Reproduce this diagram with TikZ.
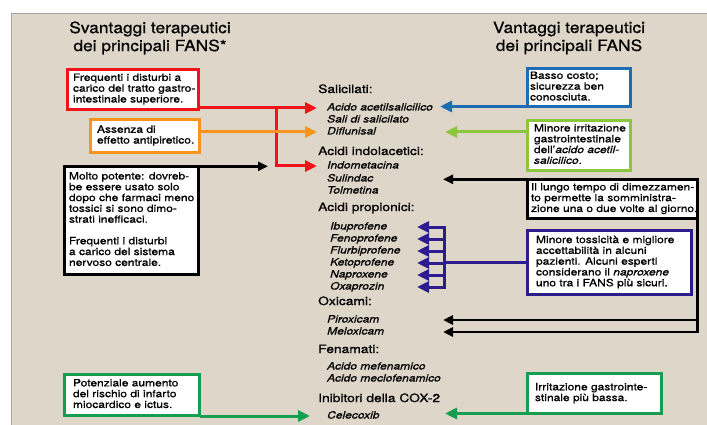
\documentclass[tikz,border=0pt]{standalone}
\usepackage{fontspec}
\setmainfont{TeX Gyre Heros}[FakeStretch=1.2, FakeBold=0.9]
\newfontfamily\titlefamily{TeX Gyre Heros}[FakeStretch=1.12, FakeBold=0.6]
\usetikzlibrary{arrows.meta}
\definecolor{bgpanel}{RGB}{222,214,200}
\definecolor{panelgray}{RGB}{170,165,156}
\definecolor{cred}{RGB}{240,20,25}
\definecolor{corange}{RGB}{247,148,29}
\definecolor{cblue}{RGB}{30,108,180}
\definecolor{cyg}{RGB}{140,198,63}
\definecolor{cpurple}{RGB}{45,28,140}
\definecolor{cgreen}{RGB}{22,158,80}
\newcommand{\boxfont}{\fontsize{10}{10.8}\selectfont}
\newcommand{\hdfont}{\fontsize{11.5}{13}\selectfont}
\newcommand{\itfont}{\fontsize{10}{12}\selectfont\itshape}
\newcommand{\ttlfont}{\titlefamily\fontsize{15.5}{18}\selectfont}
\newcommand{\btext}[2]{\makebox[#1][l]{\begin{tabular}{@{}l@{}}#2\end{tabular}}}
\begin{document}
\begin{tikzpicture}[x=1pt,y=-1pt,
  box/.style={draw, fill=white, line width=3pt, anchor=north west, inner ysep=0pt, outer sep=0pt, font=\boxfont},
  bbox/.style={box, line width=2.6pt},
  hd/.style={anchor=west, inner sep=0pt, font=\hdfont, text height=8.5pt, text depth=2.5pt},
  itm/.style={anchor=west, inner sep=0pt, font=\itfont, text height=7pt, text depth=2pt},
  ttl/.style={align=center, font=\ttlfont, inner sep=0pt},
  arr/.style={-{Triangle[length=12pt,width=11pt]}, line width=3pt},
  barr/.style={-{Triangle[length=10pt,width=9pt]}, line width=2.6pt}
]
\useasboundingbox (0,0) rectangle (707,425);
\fill[white] (0,0) rectangle (707,425);
\draw[fill=bgpanel, draw=panelgray, line width=0.8pt] (11,13) rectangle (709,427);

% titles
\node[ttl] (tleft) at (150,38) {Svantaggi terapeutici\\dei principali FANS*};
\node[ttl] (tright) at (569,38) {Vantaggi terapeutici\\dei principali FANS};

% centre column
\node[hd] (hsal) at (318,90) {Salicilati:};
\node[itm] (acido) at (327,108) {Acido acetilsalicilico};
\node[itm] (sali) at (327,120) {Sali di salicilato};
\node[itm] (difl) at (327,132) {Diflunisal};
\node[hd] (hind) at (318,152) {Acidi indolacetici:};
\node[itm] (indo) at (327,166) {Indometacina};
\node[itm] (suli) at (327,179) {Sulindac};
\node[itm] (tolm) at (327,191) {Tolmetina};
\node[hd] (hprop) at (318,208) {Acidi propionici:};
\node[itm] (ibu) at (330,227) {Ibuprofene};
\node[itm] (feno) at (330,239) {Fenoprofene};
\node[itm] (flurb) at (330,251) {Flurbiprofene};
\node[itm] (keto) at (330,263) {Ketoprofene};
\node[itm] (napro) at (330,275) {Naproxene};
\node[itm] (oxa) at (330,287) {Oxaprozin};
\node[hd] (hoxi) at (318,302) {Oxicami:};
\node[itm] (pirox) at (327,320) {Piroxicam};
\node[itm] (melox) at (327,332) {Meloxicam};
\node[hd] (hfen) at (318,350) {Fenamati:};
\node[itm] (mefen) at (327,367) {Acido mefenamico};
\node[itm] (meclo) at (327,379) {Acido meclofenamico};
\node[hd] (hcox) at (318,399) {Inibitori della COX-2};
\node[itm] (celec) at (327,416) {Celecoxib};

% left boxes
\node[box, draw=cred, minimum width=131pt, minimum height=40pt, inner xsep=5.5pt] (redb) at (67.5,69.5)
  {\btext{120pt}{Frequenti i disturbi a\\carico del tratto gastro-\\intestinale superiore.}};
\node[box, draw=corange, minimum width=109pt, minimum height=33pt, inner xsep=6.5pt] (orb) at (90.5,119.5)
  {\btext{96pt}{Assenza di\\effetto antipiretico.}};
\node[bbox, draw=black, minimum width=134.4pt, minimum height=108.4pt, inner xsep=4.7pt] (blL) at (64.3,166.3)
  {\btext{125pt}{Molto potente: dovreb-\\be essere usato solo\\dopo che farmaci meno\\tossici si sono dimo-\\strati inefficaci.\\ \\Frequenti i disturbi\\a carico del sistema\\nervoso centrale.}};
\node[box, draw=cgreen, minimum width=135pt, minimum height=41pt, inner xsep=8.5pt] (grL) at (64.5,374.5)
  {\btext{118pt}{Potenziale aumento\\del rischio di infarto\\miocardico e ictus.}};

% right boxes
\node[box, draw=cblue, minimum width=103pt, minimum height=38pt, inner xsep=2.5pt] (blu) at (527.5,68.5)
  {\btext{98pt}{Basso costo;\\sicurezza ben\\conosciuta.}};
\node[box, draw=cyg, minimum width=103pt, minimum height=50pt, inner xsep=6.5pt] (ygb) at (527.5,120.5)
  {\btext{90pt}{Minore irritazione\\gastrointestinale\\dell'\textit{acido acetil-}\\\textit{salicilico}.}};
\node[bbox, draw=black, minimum width=170.4pt, minimum height=39.4pt, inner xsep=3.7pt] (blR) at (527.3,179.3)
  {\btext{163pt}{Il lungo tempo di dimezzamen-\\to permette la somministra-\\zione una o due volte al giorno.}};
\node[box, draw=cpurple, minimum width=164pt, minimum height=64pt, inner xsep=8.5pt] (pub) at (527.5,230.5)
  {\btext{147pt}{Minore tossicità e migliore\\accettabilità in alcuni\\pazienti. Alcuni esperti\\considerano il \textit{naproxene}\\uno tra i FANS più sicuri.}};
\node[box, draw=cgreen, minimum width=134pt, minimum height=40pt, inner xsep=7.5pt] (grR) at (527.5,373.5)
  {\btext{119pt}{Irritazione gastrointe-\\stinale più bassa.}};

% helper coordinates
\coordinate (tipL) at (317,0);
\coordinate (tipLg) at (310,0);
\coordinate (tipLb) at (268,0);
\coordinate (rj) at (276,0);
\coordinate (tipRa) at (440,0);
\coordinate (tipRb) at (445,0);
\coordinate (tipRc) at (443,0);
\coordinate (ptip) at (417,0);
\coordinate (pbus) at (444,0);

% left connectors
\draw[arr, cred] (redb.east |- acido.west) -- (tipL |- acido.west);
\draw[arr, cred, line cap=rect] (rj |- acido.west) |- (tipL |- indo.west);
\draw[arr, corange] (orb.east |- difl.west) -- (tipL |- difl.west);
\draw[barr, black] (blL.north east) -- (tipLb |- blL.north east);
\draw[arr, cgreen] (grL.east |- celec.west) -- (tipLg |- celec.west);

% right connectors
\draw[arr, cblue] (blu.south west) -- (tipRa |- blu.south west);
\draw[arr, cyg] (ygb.west |- difl.west) -- (tipRb |- difl.west);
\draw[barr, black] (blR.north west) -- (tipRc |- blR.north west);
\draw[line width=2.6pt, line cap=rect] (blR.south east) -- (blR.south east |- melox.west);
\draw[barr, black] (blR.south east |- pirox.west) -- (tipRc |- pirox.west);
\draw[barr, black] (blR.south east |- melox.west) -- (tipRc |- melox.west);
\draw[line width=3pt, cpurple] (pub.west) -- (pbus |- pub.west);
\draw[line width=3pt, cpurple, line cap=rect] (pbus |- ibu.west) -- (pbus |- oxa.west);
\foreach \n in {ibu,feno,flurb,keto,napro,oxa}
  \draw[arr, cpurple] (pbus |- \n.west) -- (ptip |- \n.west);
\draw[arr, cgreen] (grR.south west) -- (tipRb |- grR.south west);
\end{tikzpicture}
\end{document}
